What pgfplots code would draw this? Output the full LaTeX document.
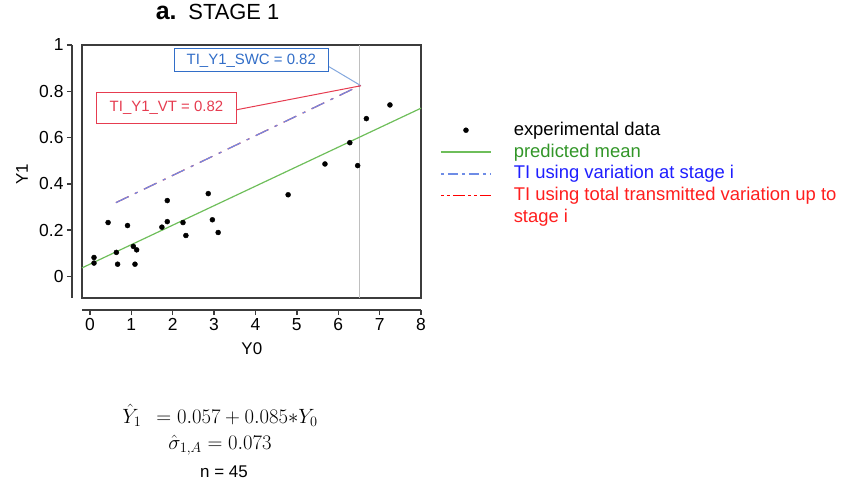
\documentclass[border=0pt]{standalone}
\usepackage{pgfplots}
\pgfplotsset{compat=1.18}
\usepackage{fontspec}
\setmainfont{Liberation Sans}
\definecolor{greenline}{RGB}{110,190,90}
\definecolor{blueline}{RGB}{110,140,230}
\definecolor{greentext}{RGB}{50,150,40}
\definecolor{bluetext}{RGB}{30,30,255}
\definecolor{redtext}{RGB}{255,30,30}
\definecolor{redline}{RGB}{255,40,40}
\definecolor{calloutblue}{RGB}{50,110,200}
\definecolor{calloutred}{RGB}{230,60,80}
\definecolor{boxgray}{RGB}{60,60,60}
\begin{document}
\begin{tikzpicture}
\useasboundingbox (0,0) rectangle (856bp,490bp);
\begin{axis}[
  at={(82bp,192bp)}, anchor=south west,
  scale only axis, width=339bp, height=253bp,
  xmin=-0.19, xmax=8, ymin=-0.093, ymax=1,
  clip=false,
  axis lines=left, separate axis lines,
  axis x line shift=12bp, axis y line shift=10bp,
  axis line style={-, line width=1.4bp, color=boxgray},
  every outer x axis line/.append style={-},
  every outer y axis line/.append style={-},
  xtick={0,1,...,8}, ytick={0,0.2,0.4,0.6,0.8,1},
  tick align=outside, major tick length=5bp,
  tick style={line width=1.4bp, color=boxgray},
  /pgf/number format/assume math mode=true,
  ticklabel style={font=\fontsize{17.5}{19}\selectfont},
  xlabel={Y0}, ylabel={Y1},
  label style={font=\fontsize{17}{19}\selectfont},
  xlabel style={at={(axis description cs:0.501,-0.2)}, anchor=center},
  ylabel style={at={(axis description cs:-0.177,0.49)}, anchor=center, rotate=0},
  title={{\fontsize{25}{25}\selectfont\bfseries a.}\, STAGE 1},
  title style={at={(axis description cs:0.40,1.107)}, anchor=center, font=\fontsize{22}{22}\selectfont},
  legend cell align=left,
  legend style={at={(axis description cs:1.056,0.697)}, anchor=north west,
    draw=none, fill=none, inner sep=0pt, row sep=7bp, column sep=22bp,
    font=\fontsize{18.5}{21.5}\selectfont,
    cells={anchor=base west, align=left}, nodes={inner sep=0pt}},
]
\draw[line width=1.5bp, color=boxgray] (rel axis cs:0,0) rectangle (rel axis cs:1,1);
% vertical reference line
\addplot[forget plot, color=black!25, line width=1bp] coordinates {(6.52,-0.093) (6.52,1)};
% experimental data
\addplot[only marks, mark=*, mark size=2.5bp, color=black,
  legend image code/.code={\fill (25bp,5bp) circle (2.5bp);}]
  coordinates {
  (0.10,0.082) (0.10,0.058) (0.44,0.233) (0.64,0.104) (0.67,0.053)
  (0.91,0.220) (1.05,0.130) (1.13,0.115) (1.09,0.053) (1.74,0.213)
  (1.87,0.328) (1.87,0.237) (2.25,0.233) (2.32,0.177) (2.86,0.358)
  (2.96,0.245) (3.10,0.190) (4.79,0.353) (5.68,0.486) (6.28,0.578)
  (6.47,0.479) (6.68,0.682) (7.25,0.741)
  };
\addlegendentry{experimental data}
% predicted mean
\addplot[color=greenline, line width=1.2bp,
  legend image code/.code={\draw[color=greenline, line width=1.4bp] (0bp,5bp) -- (50bp,5bp);}]
  coordinates {(-0.19,0.037) (8,0.727)};
\addlegendentry{\textcolor{greentext}{predicted mean}}
% TI using total transmitted variation (red, lies beneath the blue line)
\addplot[forget plot, color=redline, line width=1.2bp, dash pattern=on 14bp off 7bp on 3bp off 7bp]
  coordinates {(0.63,0.319) (6.52,0.824)};
% TI using variation at stage i (blue)
\addplot[color=blueline, line width=1.2bp, dash pattern=on 14bp off 7bp on 3bp off 7bp,
  legend image code/.code={\draw[color=blueline, line width=1.4bp, dash pattern=on 3bp off 4bp on 10bp off 4bp] (0bp,5bp) -- (50bp,5bp);}]
  coordinates {(0.63,0.319) (6.52,0.824)};
\addlegendentry{\textcolor{bluetext}{TI using variation at stage i}}
\addlegendimage{draw=red, legend image code/.code={\pgfsetstrokecolor{red}\draw[draw=red, color=red, line width=1.6bp, dash pattern=on 3bp off 3bp on 3bp off 3bp on 12bp off 3bp] (0bp,26.5bp) -- (50bp,26.5bp);}}
\addlegendentry[text=redtext]{{TI using total transmitted variation up to\\stage i}}
% callouts
\draw[color=calloutblue!60, line width=1bp] (axis cs:5.77,0.907) -- (axis cs:6.55,0.824);
\draw[color=calloutred, line width=1bp] (axis cs:3.54,0.72) -- (axis cs:6.55,0.824);
\node[draw=calloutblue, line width=1.2bp, fill=white, minimum width=154bp, minimum height=23bp, inner sep=0pt,
  text=calloutblue, font=\fontsize{15}{15}\selectfont] at (axis cs:3.90,0.934) {TI\_Y1\_SWC = 0.82};
\node[draw=calloutred, line width=1.2bp, fill=white, minimum width=140bp, minimum height=31bp, inner sep=0pt,
  text=calloutred, font=\fontsize{15}{15}\selectfont] at (axis cs:1.85,0.727) {TI\_Y1\_VT = 0.82};
\end{axis}
\node[font=\fontsize{21.5}{21.5}\selectfont] at (220bp,75bp) {$\hat{Y}_{1}\;\, = 0.057 + 0.085{*}Y_0$};
\node[font=\fontsize{21}{21}\selectfont] at (220bp,45bp) {$\hat{\sigma}_{1,A} = 0.073$};
\node[font=\fontsize{17}{17}\selectfont] at (224bp,18bp) {n = 45};
\end{tikzpicture}
\end{document}
